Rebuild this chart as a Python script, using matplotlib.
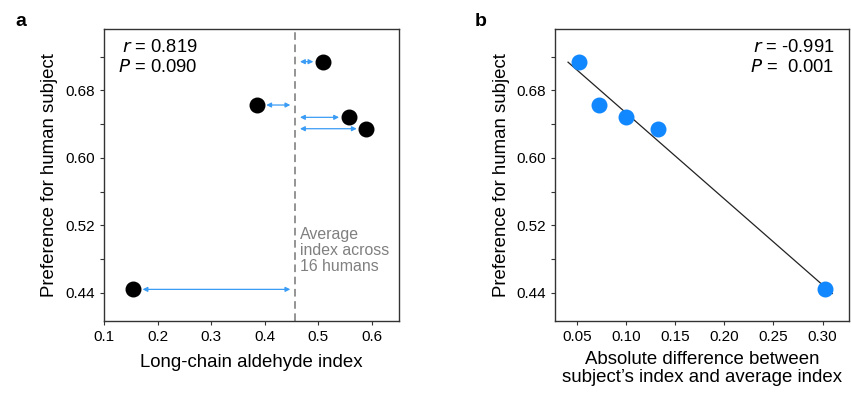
import numpy as np
import matplotlib.pyplot as plt

plt.rcParams['font.family'] = ['Liberation Sans', 'DejaVu Sans']

# data
index = [0.154, 0.385, 0.509, 0.557, 0.590]
pref = [0.444, 0.6626, 0.714, 0.648, 0.6345]
avg_index = 0.457
abs_diff = [abs(v - avg_index) for v in index]

yticks = [0.44, 0.48, 0.52, 0.56, 0.60, 0.64, 0.68, 0.72]
ylabels = ['0.44', '', '0.52', '', '0.60', '', '0.68', '']
xticks_a = [0.1, 0.2, 0.3, 0.4, 0.5, 0.6]
xticks_b = [0.05, 0.10, 0.15, 0.20, 0.25, 0.30]

blue = '#1188ff'
arrow_blue = '#3a9cf5'

fig = plt.figure(figsize=(8.51, 3.94), dpi=100)
ax1 = fig.add_axes([0.1222, 0.1853, 0.3467, 0.741])
ax2 = fig.add_axes([0.6525, 0.1853, 0.3452, 0.741])

for ax in (ax1, ax2):
    ax.set_ylim(0.4065, 0.7527)
    ax.set_yticks(yticks)
    ax.set_yticklabels(ylabels)
    ax.tick_params(labelsize=11, length=3, width=0.8, color='#333333')
    ax.set_ylabel('Preference for human subject', fontsize=13.4, labelpad=5)
    for s in ax.spines.values():
        s.set_linewidth(1.0)
        s.set_color('#333333')

# panel a
ax1.set_xlim(0.1, 0.651)
ax1.set_xticks(xticks_a)
ax1.set_xticklabels([str(v) for v in xticks_a])
ax1.axvline(avg_index, color='#777777', lw=1.1, ls=(0, (5, 3)))
ax1.scatter(index, pref, s=110, color='black', zorder=3)
for xv, yv in zip(index, pref):
    if xv < avg_index:
        x0, x1 = xv + 0.018, avg_index - 0.009
    else:
        x0, x1 = avg_index + 0.009, xv - 0.018
    ax1.annotate('', xy=(x0, yv), xytext=(x1, yv),
                 arrowprops=dict(arrowstyle='<|-|>', color=arrow_blue, lw=0.9,
                                 mutation_scale=7, shrinkA=0, shrinkB=0))
ax1.text(0.466, 0.5175, 'Average\nindex across\n16 humans', color='#808080',
         fontsize=11.4, va='top', ha='left', linespacing=1.05)
ax1.text(0.274, 0.7305, r'$\mathit{r}$ = 0.819', fontsize=13.2, ha='right', va='center')
ax1.text(0.274, 0.7068, r'$\mathit{P}$ = 0.090', fontsize=13.2, ha='right', va='center')
ax1.set_xlabel('Long-chain aldehyde index', fontsize=13.4, labelpad=7)

# panel b
ax2.set_xlim(0.028, 0.327)
ax2.set_xticks(xticks_b)
ax2.set_xticklabels(['%.2f' % v for v in xticks_b])
slope, icpt = np.polyfit(abs_diff, pref, 1)
xl = np.array([0.041, 0.31])
ax2.plot(xl, slope * xl + icpt, color='#222222', lw=0.9, zorder=2)
ax2.scatter(abs_diff, pref, s=110, color=blue, zorder=3)
ax2.text(0.312, 0.7305, r'$\mathit{r}$ = -0.991', fontsize=13.2, ha='right', va='center')
ax2.text(0.312, 0.7068, r'$\mathit{P}$ =  0.001', fontsize=13.2, ha='right', va='center')
ax2.set_xlabel('Absolute difference between\nsubject\u2019s index and average index',
               fontsize=13.4, labelpad=5, linespacing=1.05)

fig.text(0.018, 0.945, 'a', fontsize=14, fontweight='bold', va='center')
fig.text(0.558, 0.945, 'b', fontsize=14, fontweight='bold', va='center')

fig.savefig('out.png', dpi=100)
